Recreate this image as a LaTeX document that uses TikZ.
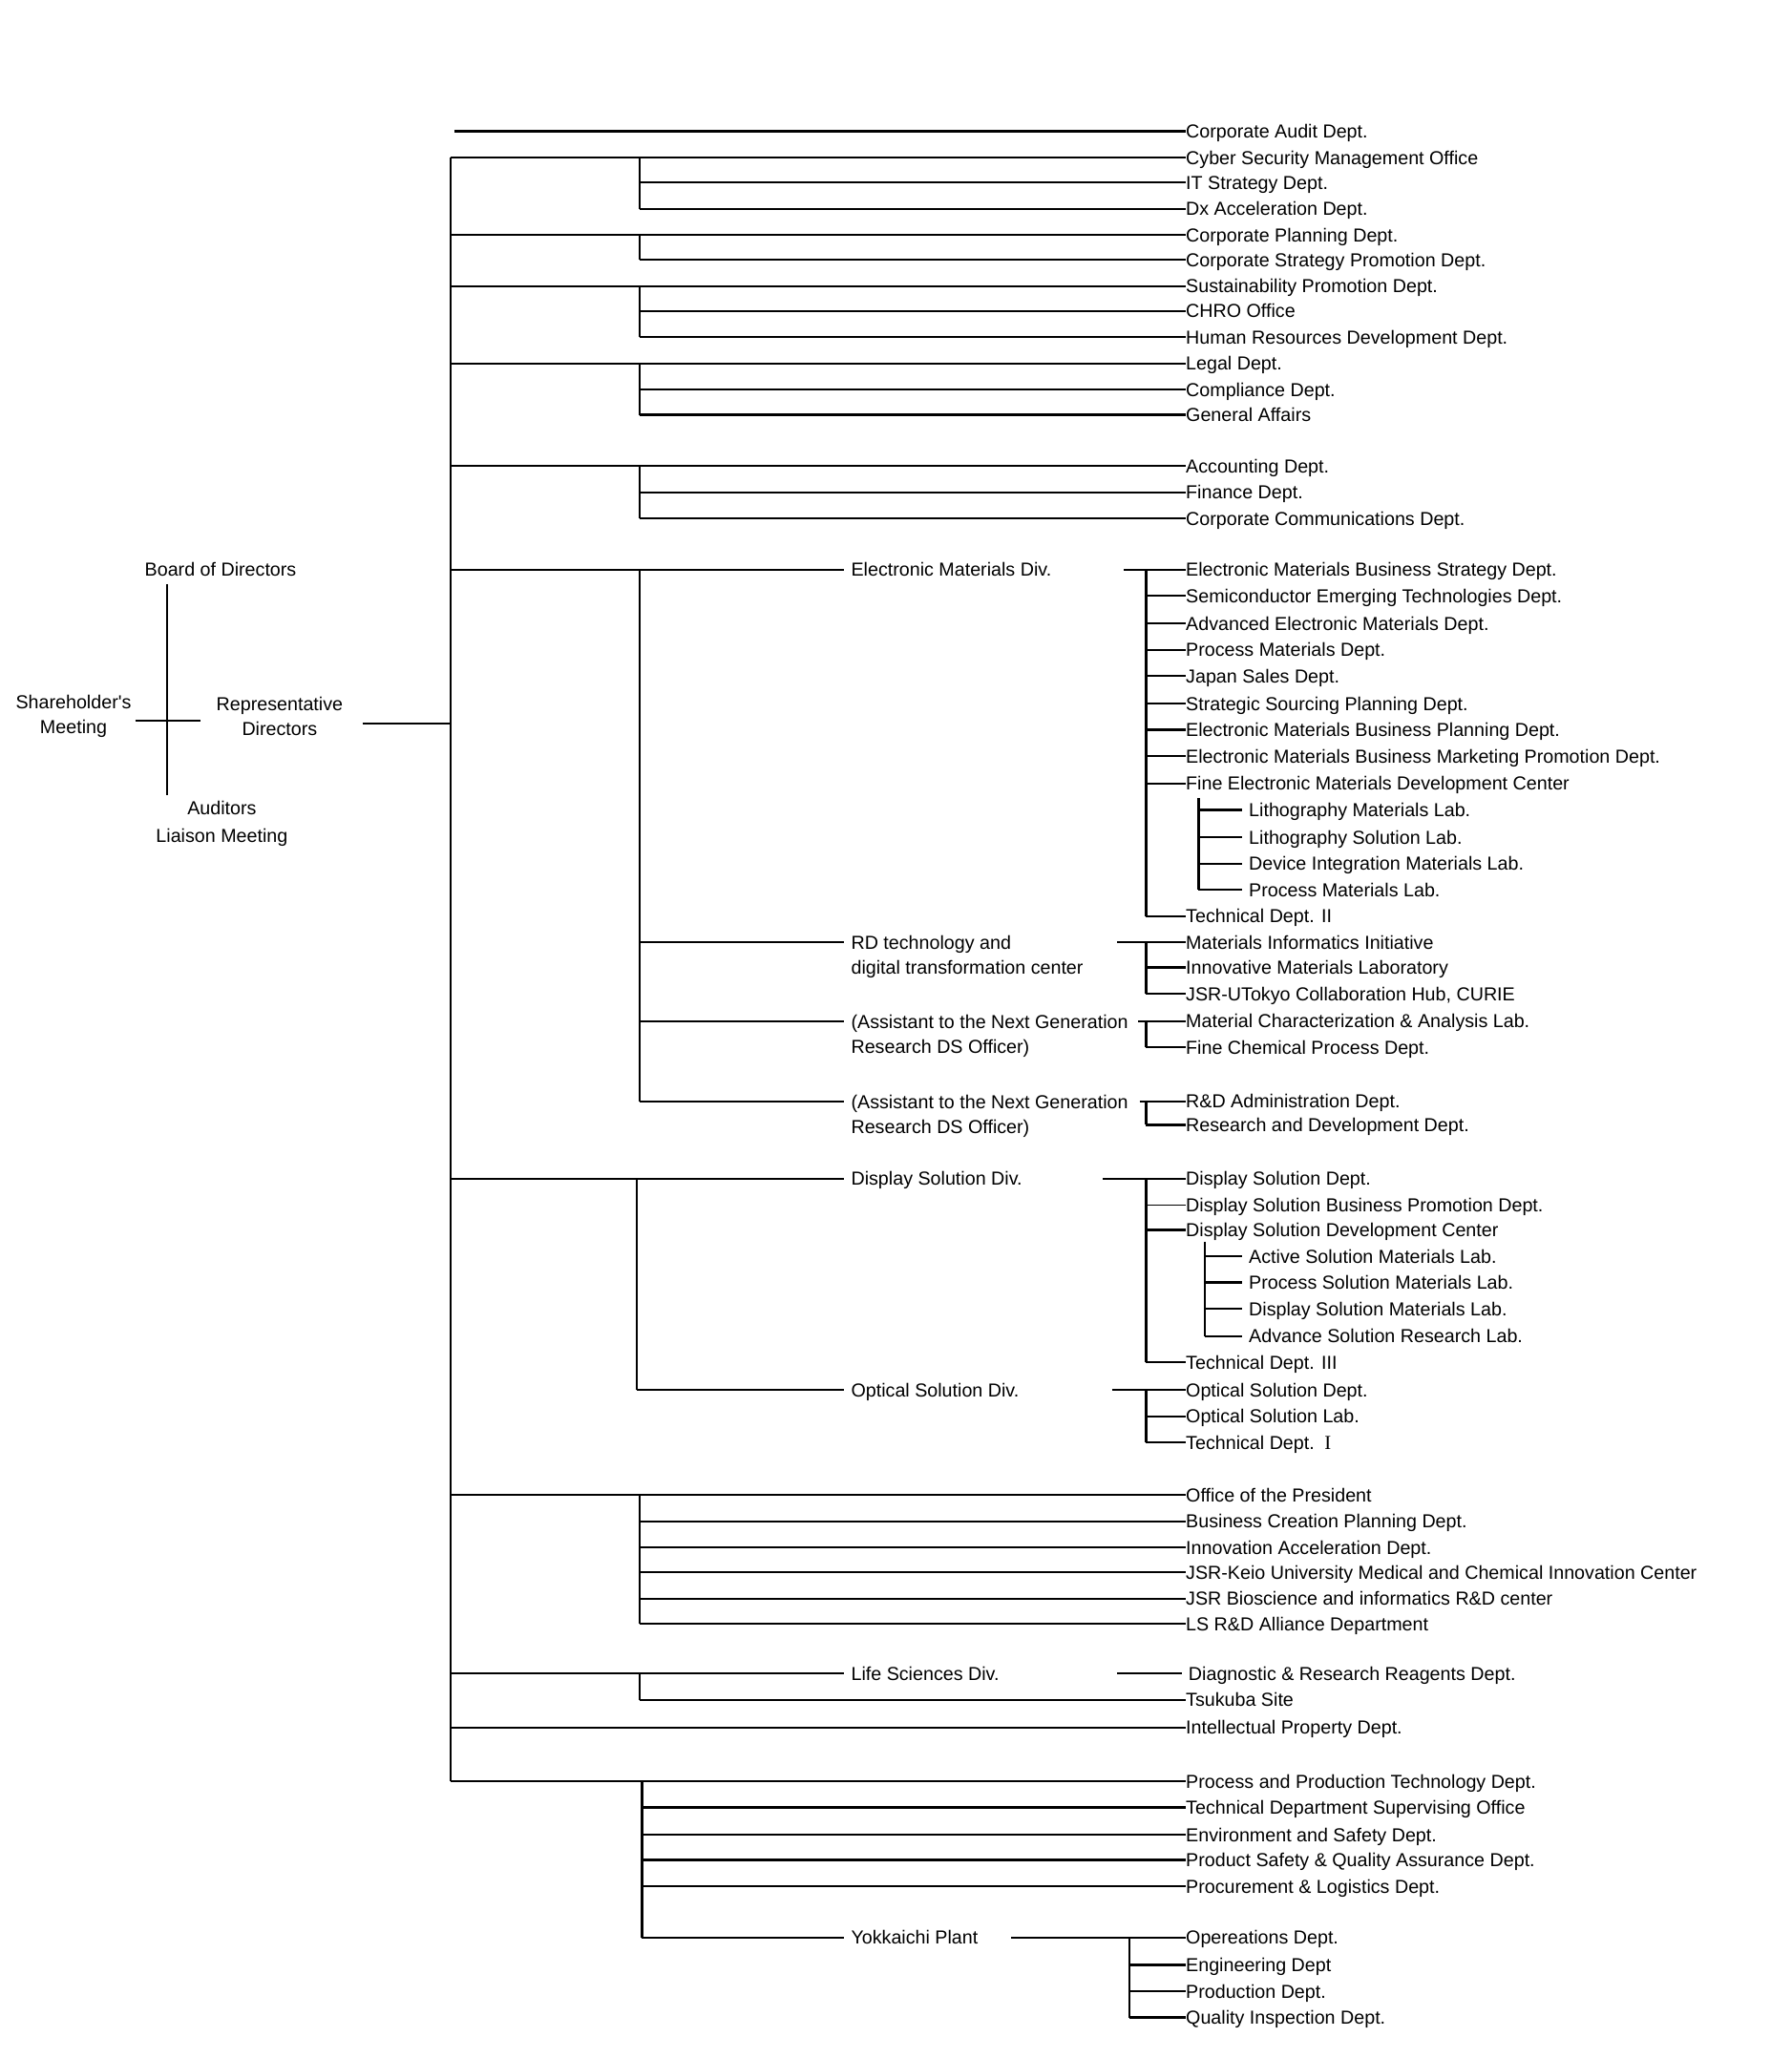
\documentclass[tikz,border=0pt]{standalone}
\usepackage{fontspec}
\setmainfont{Liberation Sans}
\newfontfamily\cursorfont{Liberation Serif}
\newcommand{\orgfont}{\fontsize{8.15}{10.8}\selectfont}

\tikzset{
  dept/.style={anchor=west, inner sep=0pt, text height=5.85pt, text depth=0pt, font=\orgfont},
  labn/.style={dept, inner xsep=2.85pt},
  divn/.style={dept, inner xsep=2.85pt},
  divtwo/.style={anchor=north west, inner xsep=2.85pt, inner ysep=0pt, align=left, font=\orgfont},
  topn/.style={inner sep=0pt, align=center, font=\orgfont},
  link/.style={line width=0.9pt},
  thinlink/.style={line width=0.45pt},
}

\begin{document}
\begin{tikzpicture}[x=0.02cm,y=-0.02cm]
  \useasboundingbox (0,0) rectangle (1365,1567.9);

  % spines
  \coordinate (spine) at (343,0);
  \coordinate (subA) at (487,0);
  \coordinate (subD) at (485,0);
  \coordinate (subP) at (489,0);
  \coordinate (emspine) at (873,0);
  \coordinate (ykspine) at (860,0);

  % top management
  \node[topn] (board) at (168,434) {Board of Directors};
  \node[topn] (share) at (56,545.5) {Shareholder\textquotesingle s\\Meeting};
  \node[topn] (rep) at (213,545.5) {Representative\\Directors};
  \node[topn] (aud) at (169,627.5) {Auditors\\[1.2pt]Liaison Meeting};
  \coordinate (crosstop) at (127,445);
  \coordinate (crossbot) at (127,606);
  \coordinate (shareout) at (103,549);
  \coordinate (repin) at (153,549);
  \coordinate (repout) at (276,551);
  \draw[link] (crosstop) -- (crossbot);
  \draw[link] (shareout) -- (repin);
  \draw[link] (repout) -- (repout -| spine);

  % staff departments
  \node[dept] (audit) at (903,100) {Corporate Audit Dept.};
  \node[dept] (cyber) at (903,120) {Cyber Security Management Office};
  \node[dept] (itstr) at (903,139) {IT Strategy Dept.};
  \node[dept] (dxacc) at (903,159) {Dx Acceleration Dept.};
  \node[dept] (cplan) at (903,179) {Corporate Planning Dept.};
  \node[dept] (cstrat) at (903,198) {Corporate Strategy Promotion Dept.};
  \node[dept] (sustain) at (903,218) {Sustainability Promotion Dept.};
  \node[dept] (chro) at (903,237) {CHRO Office};
  \node[dept] (hrdev) at (903,257) {Human Resources Development Dept.};
  \node[dept] (legal) at (903,277) {Legal Dept.};
  \node[dept] (compl) at (903,297) {Compliance Dept.};
  \node[dept] (genaff) at (903,316) {General Affairs};
  \node[dept] (acct) at (903,355) {Accounting Dept.};
  \node[dept] (fin) at (903,375) {Finance Dept.};
  \node[dept] (ccomm) at (903,395) {Corporate Communications Dept.};

  \coordinate (auditlead) at (346,100);
  \draw[link] (auditlead) -- (audit.west);

  % electronic materials
  \node[divn] (emdiv) at (643,434) {Electronic Materials Div.};
  \node[divtwo] (rd) at (643,712.6) {RD technology and\\digital transformation center};
  \node[divtwo] (asst1) at (643,772.6) {(Assistant to the Next Generation\\Research DS Officer)};
  \node[divtwo] (asst2) at (643,833.6) {(Assistant to the Next Generation\\Research DS Officer)};
  \coordinate (rdin) at ([yshift=-3.07pt]rd.north west);
  \coordinate (asst1in) at ([yshift=-3.07pt]asst1.north west);
  \coordinate (asst2in) at ([yshift=-3.07pt]asst2.north west);

  \node[dept] (em1) at (903,434) {Electronic Materials Business Strategy Dept.};
  \node[dept] (em2) at (903,454) {Semiconductor Emerging Technologies Dept.};
  \node[dept] (em3) at (903,475) {Advanced Electronic Materials Dept.};
  \node[dept] (em4) at (903,495) {Process Materials Dept.};
  \node[dept] (em5) at (903,515) {Japan Sales Dept.};
  \node[dept] (em6) at (903,536) {Strategic Sourcing Planning Dept.};
  \node[dept] (em7) at (903,556) {Electronic Materials Business Planning Dept.};
  \node[dept] (em8) at (903,576) {Electronic Materials Business Marketing Promotion Dept.};
  \node[dept] (em9) at (903,597) {Fine Electronic Materials Development Center};
  \node[labn] (lab1) at (946,617) {Lithography Materials Lab.};
  \node[labn] (lab2) at (946,638) {Lithography Solution Lab.};
  \node[labn] (lab3) at (946,658) {Device Integration Materials Lab.};
  \node[labn] (lab4) at (946,678) {Process Materials Lab.};
  \node[dept] (tech2) at (903,698) {Technical Dept. II};

  \node[dept] (mi) at (903,718) {Materials Informatics Initiative};
  \node[dept] (iml) at (903,737) {Innovative Materials Laboratory};
  \node[dept] (curie) at (903,757) {JSR-UTokyo Collaboration Hub, CURIE};
  \node[dept] (mca) at (903,778) {Material Characterization \& Analysis Lab.};
  \node[dept] (fcp) at (903,798) {Fine Chemical Process Dept.};
  \node[dept] (rda) at (903,839) {R\&D Administration Dept.};
  \node[dept] (rdd) at (903,857) {Research and Development Dept.};

  \draw[link] (emdiv.west -| subA) -- (asst2in -| subA);
  \foreach \n in {rdin,asst1in,asst2in}
    \draw[link] (\n -| subA) -- (\n);

  \coordinate (emlead) at (856,434);
  \draw[link] (emlead) -- (em1.west);
  \draw[link] (em1.west -| emspine) -- (tech2.west -| emspine);
  \foreach \n in {em2,em3,em4,em5,em6,em7,em8,em9,tech2}
    \draw[link] (\n.west -| emspine) -- (\n.west);
  \coordinate (labspine) at (913,608);
  \draw[link] (labspine) -- (lab4.west -| labspine);
  \foreach \n in {lab1,lab2,lab3,lab4}
    \draw[link] (\n.west -| labspine) -- (\n.west);

  \coordinate (rdlead) at (851,718);
  \draw[link] (rdlead) -- (mi.west);
  \draw[link] (mi.west -| emspine) -- (curie.west -| emspine);
  \foreach \n in {iml,curie}
    \draw[link] (\n.west -| emspine) -- (\n.west);

  \coordinate (mcalead) at (867,778);
  \draw[link] (mcalead) -- (mca.west);
  \draw[link] (mca.west -| emspine) -- (fcp.west -| emspine);
  \draw[link] (fcp.west -| emspine) -- (fcp.west);

  \coordinate (rdalead) at (868,839);
  \draw[link] (rdalead) -- (rda.west);
  \draw[link] (rda.west -| emspine) -- (rdd.west -| emspine);
  \draw[link] (rdd.west -| emspine) -- (rdd.west);

  % display and optical
  \node[divn] (dsdiv) at (643,898) {Display Solution Div.};
  \node[divn] (osdiv) at (643,1059) {Optical Solution Div.};
  \node[dept] (ds1) at (903,898) {Display Solution Dept.};
  \node[dept] (ds2) at (903,918) {Display Solution Business Promotion Dept.};
  \node[dept] (ds3) at (903,937) {Display Solution Development Center};
  \node[labn] (dlab1) at (946,957) {Active Solution Materials Lab.};
  \node[labn] (dlab2) at (946,977) {Process Solution Materials Lab.};
  \node[labn] (dlab3) at (946,997) {Display Solution Materials Lab.};
  \node[labn] (dlab4) at (946,1018) {Advance Solution Research Lab.};
  \node[dept] (tech3) at (903,1038) {Technical Dept. III};
  \node[dept] (os1) at (903,1059) {Optical Solution Dept.};
  \node[dept] (os2) at (903,1079) {Optical Solution Lab.};
  \node[dept] (tech1) at (903,1099) {Technical Dept.\hspace{4.4pt}{\cursorfont\fontsize{8.6}{9}\selectfont I}};

  \draw[link] (dsdiv.west -| subD) -- (osdiv.west -| subD);
  \draw[link] (osdiv.west -| subD) -- (osdiv.west);

  \coordinate (dslead) at (840,898);
  \draw[link] (dslead) -- (ds1.west);
  \draw[link] (ds1.west -| emspine) -- (tech3.west -| emspine);
  \draw[thinlink] (ds2.west -| emspine) -- (ds2.west);
  \foreach \n in {ds3,tech3}
    \draw[link] (\n.west -| emspine) -- (\n.west);
  \coordinate (dlabspine) at (918,946);
  \draw[link] (dlabspine) -- (dlab4.west -| dlabspine);
  \foreach \n in {dlab1,dlab2,dlab3,dlab4}
    \draw[link] (\n.west -| dlabspine) -- (\n.west);

  \coordinate (oslead) at (847,1059);
  \draw[link] (oslead) -- (os1.west);
  \draw[link] (os1.west -| emspine) -- (tech1.west -| emspine);
  \foreach \n in {os2,tech1}
    \draw[link] (\n.west -| emspine) -- (\n.west);

  % president office
  \node[dept] (office) at (903,1139) {Office of the President};
  \node[dept] (bcp) at (903,1159) {Business Creation Planning Dept.};
  \node[dept] (iad) at (903,1179) {Innovation Acceleration Dept.};
  \node[dept] (keio) at (903,1198) {JSR-Keio University Medical and Chemical Innovation Center};
  \node[dept] (bio) at (903,1218) {JSR Bioscience and informatics R\&D center};
  \node[dept] (lsrd) at (903,1237) {LS R\&D Alliance Department};

  % life sciences
  \node[divn] (lsdiv) at (643,1275) {Life Sciences Div.};
  \node[divn] (drr) at (900,1275) {Diagnostic \& Research Reagents Dept.};
  \node[dept] (tsukuba) at (903,1295) {Tsukuba Site};
  \node[dept] (intprop) at (903,1316) {Intellectual Property Dept.};
  \coordinate (drrlead) at (851,1275);
  \draw[link] (drrlead) -- (drr.west);

  % production
  \node[dept] (ppt) at (903,1357) {Process and Production Technology Dept.};
  \node[dept] (tdso) at (903,1377) {Technical Department Supervising Office};
  \node[dept] (esd) at (903,1398) {Environment and Safety Dept.};
  \node[dept] (psqa) at (903,1417) {Product Safety \& Quality Assurance Dept.};
  \node[dept] (plog) at (903,1437) {Procurement \& Logistics Dept.};
  \node[divn] (yokk) at (643,1476) {Yokkaichi Plant};
  \node[dept] (ops) at (903,1476) {Opereations Dept.};
  \node[dept] (eng) at (903,1497) {Engineering Dept};
  \node[dept] (prod) at (903,1517) {Production Dept.};
  \node[dept] (qid) at (903,1537) {Quality Inspection Dept.};

  \coordinate (yklead) at (770,1476);
  \draw[link] (yklead) -- (ops.west);
  \draw[link] (ops.west -| ykspine) -- (qid.west -| ykspine);
  \foreach \n in {eng,prod,qid}
    \draw[link] (\n.west -| ykspine) -- (\n.west);

  % main spine and branches
  \draw[link] (cyber.west -| spine) -- (ppt.west -| spine);
  \foreach \n in {cyber,cplan,sustain,legal,acct,emdiv,dsdiv,office,lsdiv,intprop,ppt}
    \draw[link] (\n.west -| spine) -- (\n.west);

  % sub spines
  \draw[link] (cyber.west -| subA) -- (dxacc.west -| subA);
  \draw[link] (cplan.west -| subA) -- (cstrat.west -| subA);
  \draw[link] (sustain.west -| subA) -- (hrdev.west -| subA);
  \draw[link] (legal.west -| subA) -- (genaff.west -| subA);
  \draw[link] (acct.west -| subA) -- (ccomm.west -| subA);
  \draw[link] (office.west -| subA) -- (lsrd.west -| subA);
  \draw[link] (lsdiv.west -| subA) -- (tsukuba.west -| subA);
  \draw[link] (ppt.west -| subP) -- (yokk.west -| subP);
  \foreach \n in {itstr,dxacc,cstrat,chro,hrdev,compl,genaff,fin,ccomm,bcp,iad,keio,bio,lsrd,tsukuba}
    \draw[link] (\n.west -| subA) -- (\n.west);
  \foreach \n in {tdso,esd,psqa,plog,yokk}
    \draw[link] (\n.west -| subP) -- (\n.west);
\end{tikzpicture}
\end{document}
